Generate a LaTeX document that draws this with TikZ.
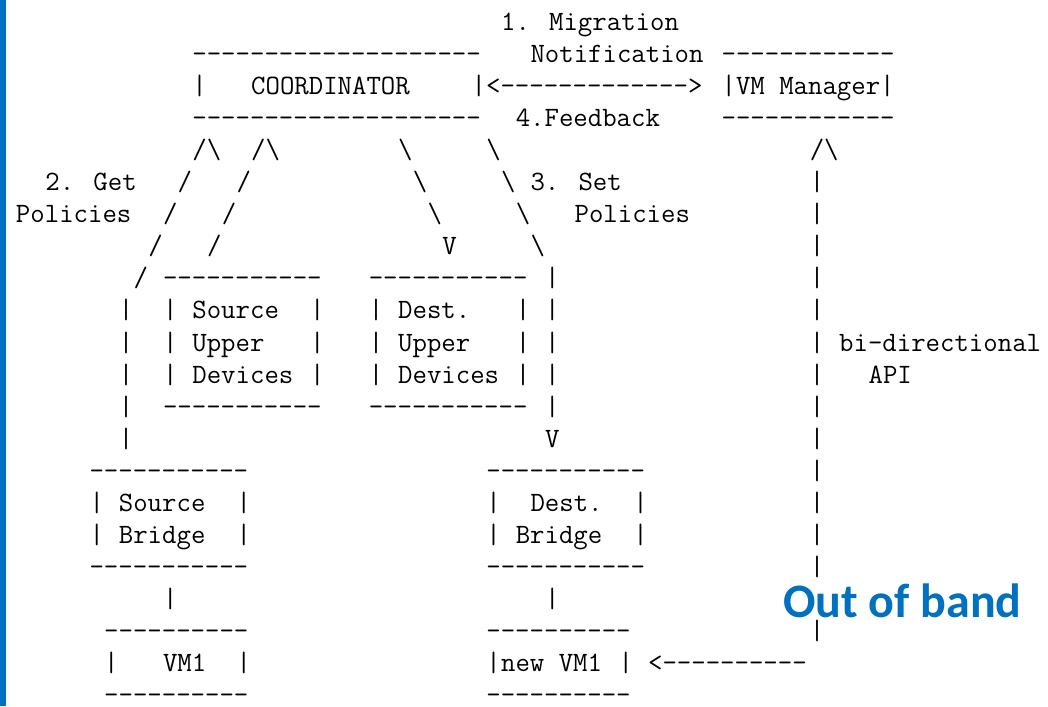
\documentclass[tikz,border=0pt]{standalone}
\usepackage{fontspec}
\newfontfamily\bandfont{Carlito}
\definecolor{accent}{HTML}{0070C0}
% one ASCII cell: 14.7pt wide (Latin Modern Mono at 28pt), rows 32.05pt apart
\newcommand\cellx[1]{16pt+#1*14.7pt}
\newcommand\celly[1]{-30.5pt-(#1-1)*32.05pt}
\newcommand\bsl{\textbackslash}
\newcommand\seg[4]{\node[asc] (#1) at ({\cellx{#2}},{\celly{#3}}) {#4};}
\tikzset{
  asc/.style={anchor=base west, inner sep=0pt, outer sep=0pt,
    font=\ttfamily\fontsize{28}{28}\selectfont, text=black},
  bandlabel/.style={anchor=base west, inner sep=0pt, outer sep=0pt,
    font=\bandfont\bfseries\fontsize{48}{48}\selectfont, text=accent}
}
\begin{document}
\begin{tikzpicture}
\useasboundingbox (0,0) rectangle (1048pt,-706pt);
\fill[white] (0,0) rectangle (1048pt,-706pt);
\fill[accent] (0,0) rectangle (6pt,-706pt);

% coordinator, notification / feedback, VM manager
\seg{lblNotifyA}{33}{1}{1. Migration}
\seg{coordTop}{12}{2}{--------------------}
\seg{lblNotifyB}{35}{2}{Notification}
\seg{vmmTop}{48}{2}{------------}
\seg{coordL}{12}{3}{|}
\seg{coordName}{16}{3}{COORDINATOR}
\seg{notifyArrow}{31}{3}{|<------------->}
\seg{vmmName}{48}{3}{|VM Manager|}
\seg{coordBot}{12}{4}{--------------------}
\seg{lblFeedback}{34}{4}{4.Feedback}
\seg{vmmBot}{48}{4}{------------}

% get / set policies links
\seg{getA5}{12}{5}{/\bsl}
\seg{getB5}{16}{5}{/\bsl}
\seg{setA5}{26}{5}{\bsl}
\seg{setB5}{32}{5}{\bsl}
\seg{apiTip}{54}{5}{/\bsl}
\seg{lblGetA}{2}{6}{2. Get}
\seg{getA6}{11}{6}{/}
\seg{getB6}{15}{6}{/}
\seg{setA6}{27}{6}{\bsl}
\seg{setB6}{33}{6}{\bsl}
\seg{lblSetA}{35}{6}{3. Set}
\seg{lblGetB}{0}{7}{Policies}
\seg{getA7}{10}{7}{/}
\seg{getB7}{14}{7}{/}
\seg{setA7}{28}{7}{\bsl}
\seg{setB7}{34}{7}{\bsl}
\seg{lblSetB}{38}{7}{Policies}
\seg{getA8}{9}{8}{/}
\seg{getB8}{13}{8}{/}
\seg{setA8}{29}{8}{V}
\seg{setB8}{35}{8}{\bsl}
\seg{getA9}{8}{9}{/}

% upper devices boxes
\seg{suTop}{10}{9}{-----------}
\seg{duTop}{24}{9}{-----------}
\foreach \r in {10,11,12} {
  \seg{suL\r}{10}{\r}{|}
  \seg{suR\r}{20}{\r}{|}
  \seg{duL\r}{24}{\r}{|}
  \seg{duR\r}{34}{\r}{|}
}
\seg{suW10}{12}{10}{Source}
\seg{suW11}{12}{11}{Upper}
\seg{suW12}{12}{12}{Devices}
\seg{duW10}{26}{10}{Dest.}
\seg{duW11}{26}{11}{Upper}
\seg{duW12}{26}{12}{Devices}
\seg{suBot}{10}{13}{-----------}
\seg{duBot}{24}{13}{-----------}

% links down to the bridges
\foreach \r in {10,...,14} { \seg{srcLink\r}{7}{\r}{|} }
\foreach \r in {9,...,13} { \seg{dstLink\r}{36}{\r}{|} }
\seg{dstArrow}{36}{14}{V}

% VM manager API line
\foreach \r in {6,...,18,20} { \seg{apiLine\r}{54}{\r}{|} }
\seg{lblApiA}{56}{11}{bi-directional}
\seg{lblApiB}{58}{12}{API}

% bridges
\seg{sbTop}{5}{15}{-----------}
\seg{dbTop}{32}{15}{-----------}
\foreach \r in {16,17} {
  \seg{sbL\r}{5}{\r}{|}
  \seg{sbR\r}{15}{\r}{|}
  \seg{dbL\r}{32}{\r}{|}
  \seg{dbR\r}{42}{\r}{|}
}
\seg{sbW16}{7}{16}{Source}
\seg{sbW17}{7}{17}{Bridge}
\seg{dbW16}{35}{16}{Dest.}
\seg{dbW17}{34}{17}{Bridge}
\seg{sbBot}{5}{18}{-----------}
\seg{dbBot}{32}{18}{-----------}

% virtual machines
\seg{srcVmLink}{10}{19}{|}
\seg{dstVmLink}{36}{19}{|}
\seg{vmTop}{6}{20}{----------}
\seg{nvmTop}{32}{20}{----------}
\seg{vmL}{6}{21}{|}
\seg{vmName}{10}{21}{VM1}
\seg{vmR}{15}{21}{|}
\seg{nvmL}{32}{21}{|}
\seg{nvmName}{33}{21}{new VM1}
\seg{nvmR}{41}{21}{|}
\seg{oobArrow}{43}{21}{<----------}
\seg{vmBot}{6}{22}{----------}
\seg{nvmBot}{32}{22}{----------}

\node[bandlabel] (bandLabel) at (783pt,-617pt) {Out of band};
\end{tikzpicture}
\end{document}
